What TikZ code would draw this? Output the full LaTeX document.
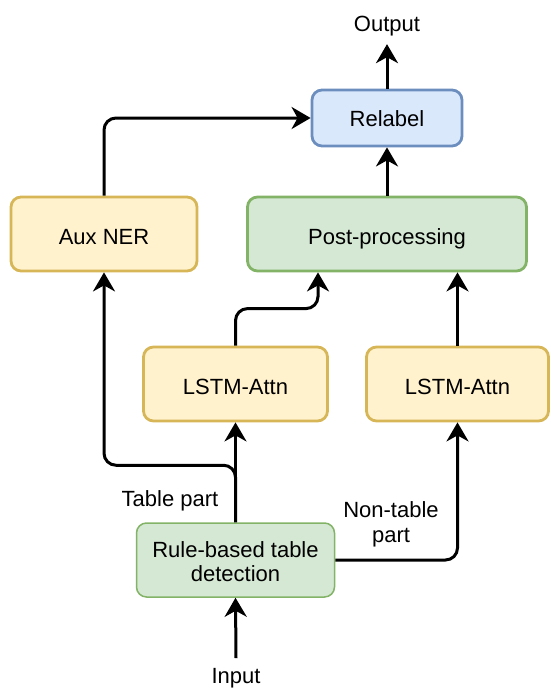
\documentclass[tikz,border=0pt]{standalone}
\usepackage{fontspec}
\setmainfont{Liberation Sans}
\usetikzlibrary{arrows.meta}

\definecolor{yelfill}{HTML}{FFF2CC}
\definecolor{yelline}{HTML}{D6B656}
\definecolor{grnfill}{HTML}{D5E8D4}
\definecolor{grnline}{HTML}{82B366}
\definecolor{blufill}{HTML}{DAE8FC}
\definecolor{bluline}{HTML}{6C8EBF}

\tikzset{
  lbl/.style={font=\fontsize{22}{24.4}\selectfont, align=center},
  box/.style={lbl, draw, rounded corners=10pt, line width=2.8pt, inner sep=0pt,
    text height=20.5pt, text depth=0pt},
  yelbox/.style={box, fill=yelfill, draw=yelline},
  grnbox/.style={box, fill=grnfill, draw=grnline},
  blubox/.style={box, fill=blufill, draw=bluline},
  conn/.style={line width=3pt, -{Stealth[length=19pt, width=22pt, inset=6pt]}},
}

\begin{document}
\begin{tikzpicture}[x=1pt, y=-1pt]
  \useasboundingbox (0,0) rectangle (550,688);

  % boxes
  \node[blubox, text height=17.4pt, minimum width=150pt, minimum height=56pt] (relabel) at (387,118) {Relabel};
  \node[yelbox, minimum width=186pt, minimum height=74pt] (aux) at (104,234) {Aux NER};
  \node[grnbox, minimum width=279pt, minimum height=74pt] (post) at (387,234) {Post-processing};
  \node[yelbox, minimum width=184pt, minimum height=74pt] (lstmL) at (235.5,384) {LSTM-Attn};
  \node[yelbox, minimum width=182pt, minimum height=74pt] (lstmR) at (457.5,384) {LSTM-Attn};
  \node[grnbox, line width=1.5pt, text height={}, text depth={},
        minimum width=198pt, minimum height=74pt] (rule) at (235.5,560)
    {\rule{0pt}{19pt}Rule-based table\\detection};

  % free texts
  \node[lbl, anchor=base, inner sep=7.7pt] (output) at (387,31.7) {Output};
  \node[lbl, anchor=base, inner sep=10pt] (input) at (236,683.5) {Input};
  \node[lbl] (tablepart) at (170,501) {Table part};
  \node[lbl] (nontable) at (391,524.5) {Non-table\\[1pt]part};

  % connectors
  \draw[conn] (input.north) -- (rule.south);
  \draw[conn] (rule.north) -- (lstmL.south);
  \draw[conn, rounded corners=12pt] (rule.north) -- ++(0,-57) -| (aux.south);
  \draw[conn, rounded corners=12pt] (rule.east) -| (lstmR.south);
  \draw[conn, rounded corners=12pt] (lstmL.north) -- ++(0,-37) -| ([xshift=-69pt]post.south);
  \draw[conn] (lstmR.north) -- (lstmR.north |- post.south);
  \draw[conn, rounded corners=12pt] (aux.north) |- (relabel.west);
  \draw[conn] (post.north) -- (relabel.south);
  \draw[conn] (relabel.north) -- (output.south);
\end{tikzpicture}
\end{document}
